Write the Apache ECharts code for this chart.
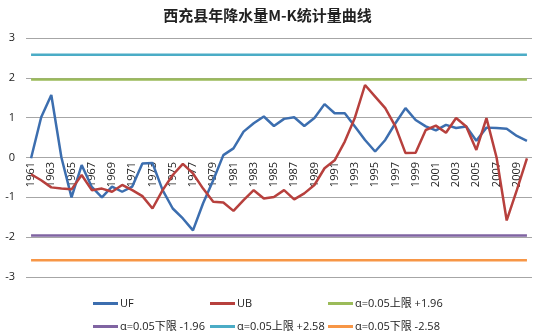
<!DOCTYPE html>
<html>
<head>
<meta charset="utf-8">
<script src="https://cdn.jsdelivr.net/npm/echarts@6/dist/echarts.min.js"></script>
<style>
  html, body { margin: 0; padding: 0; background: #fff; }
  #graph { width: 535px; height: 333px; }
</style>
</head>
<body>
<div id="graph"></div>
<script>
var years = [];
for (var y = 1961; y <= 2010; y++) years.push(String(y));

var ufValues = [
  -0.02, 1.01, 1.57, 0.0, -1.0, -0.19, -0.74, -1.0, -0.73, -0.86,
  -0.73, -0.15, -0.14, -0.82, -1.28, -1.53, -1.83, -1.15, -0.57, 0.06,
  0.23, 0.65, 0.86, 1.03, 0.79, 0.97, 1.01, 0.79, 0.99, 1.34,
  1.11, 1.11, 0.78, 0.44, 0.15, 0.44, 0.86, 1.24, 0.94, 0.78,
  0.68, 0.82, 0.74, 0.78, 0.42, 0.75, 0.74, 0.72, 0.54, 0.42
];
var ubValues = [
  -0.42, -0.57, -0.75, -0.78, -0.8, -0.44, -0.82, -0.78, -0.86, -0.69,
  -0.82, -0.97, -1.28, -0.82, -0.44, -0.16, -0.4, -0.78, -1.11, -1.13,
  -1.34, -1.07, -0.82, -1.03, -0.99, -0.82, -1.05, -0.9, -0.69, -0.27,
  -0.07, 0.4, 1.0, 1.82, 1.53, 1.24, 0.78, 0.11, 0.12, 0.69,
  0.8, 0.62, 0.99, 0.78, 0.19, 0.99, 0.0, -1.58, -0.82, -0.02
];
var limitNames = ['α=0.05上限 +1.96', 'α=0.05下限 -1.96', 'α=0.05上限 +2.58', 'α=0.05下限 -2.58'];
var limitValues = [1.96, -1.96, 2.58, -2.58];
var limitColors = ['#9BBB59', '#8064A2', '#4BACC6', '#F79646'];
var yTicks = [-3, -2, -1, 0, 1, 2, 3];

var myChart = echarts.init(document.getElementById('graph'));

var font = '"Open Sans", "Noto Sans CJK SC", sans-serif';
var series = [
  { name: 'UF', type: 'line', data: ufValues, symbol: 'none', color: '#3C6EAF',
    lineStyle: { width: 2.5 } },
  { name: 'UB', type: 'line', data: ubValues, symbol: 'none', color: '#B7403D',
    lineStyle: { width: 2.5 } }
];
limitNames.forEach(function (n, i) {
  series.push({
    name: n, type: 'line', symbol: 'none', color: limitColors[i],
    lineStyle: { width: 2.5 },
    data: years.map(function () { return limitValues[i]; })
  });
});

// legend laid out as a 3 x 2 grid
var legendPos = [[93, 298], [210, 298], [328, 298], [93, 321], [210, 321], [328, 321]];
var legends = series.map(function (s, i) {
  return {
    data: [s.name], left: legendPos[i][0], top: legendPos[i][1],
    icon: 'rect', itemWidth: 25, itemHeight: 3, padding: 0,
    textStyle: { fontSize: 11, color: '#222', fontFamily: font, padding: [0, 0, 0, -3] }
  };
});

// plot area: top 38 .. bottom 277, zero line sits 119.5px above the bottom
myChart.setOption({
  backgroundColor: '#fff',
  animation: false,
  title: {
    text: '西充县年降水量M-K统计量曲线',
    left: 'center', top: 3,
    textStyle: { fontSize: 15, fontWeight: 'bold', color: '#222', fontFamily: '"Noto Sans CJK SC", sans-serif' }
  },
  legend: legends,
  grid: { left: 26, right: 3, top: 38, bottom: 56 },
  xAxis: {
    type: 'category',
    data: years,
    boundaryGap: true,
    z: 0,
    axisLine: { show: false },
    axisTick: { show: false },
    axisLabel: {
      interval: 1, rotate: 90, fontSize: 11, color: '#222', fontFamily: font, margin: -115
    }
  },
  yAxis: {
    type: 'value',
    min: yTicks[0], max: yTicks[yTicks.length - 1], interval: 1,
    axisLine: { show: false },
    axisTick: { show: false },
    axisLabel: { fontSize: 11, color: '#222', fontFamily: font, margin: 11 },
    splitLine: { lineStyle: { color: '#A6A6A6', width: 1 } }
  },
  series: series
});
</script>
</body>
</html>
